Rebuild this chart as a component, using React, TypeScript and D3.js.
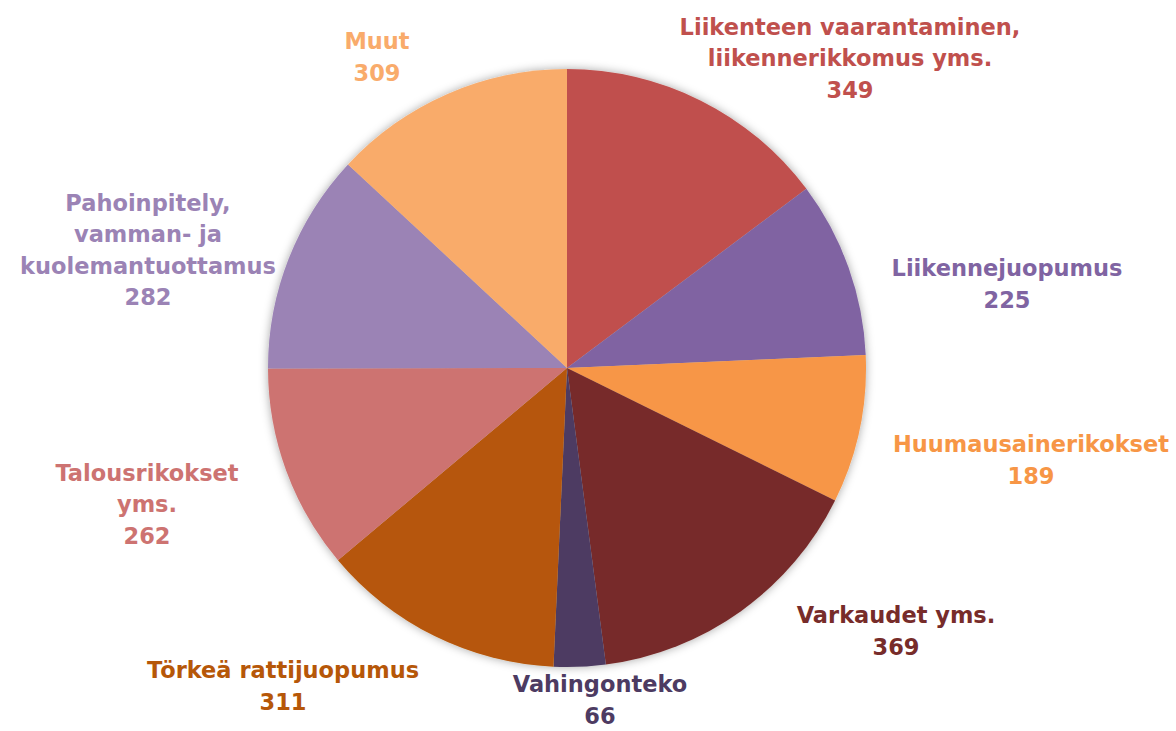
import { useEffect, useRef } from "react"
import * as d3 from "d3"

// data, clockwise from 12 o'clock
const categories = [
  ["Liikenteen vaarantaminen,", "liikennerikkomus yms."],
  ["Liikennejuopumus"],
  ["Huumausainerikokset"],
  ["Varkaudet yms."],
  ["Vahingonteko"],
  ["Törkeä rattijuopumus"],
  ["Talousrikokset", "yms."],
  ["Pahoinpitely,", "vamman- ja", "kuolemantuottamus"],
  ["Muut"],
]
const values = [349, 225, 189, 369, 66, 311, 262, 282, 309]
const sliceColors = ["#C0504D", "#8064A2", "#F79646", "#772C2A", "#4D3B62", "#B65708", "#CD7371", "#9B83B5", "#F9AB6B"]
const labelColors = ["#C0504D", "#8064A2", "#F79646", "#772C2A", "#4D3B62", "#B65708", "#CD7371", "#9B83B5", "#F9AB6B"]

// label block centres (offset from pie centre), picked to sit like the original
const labelOffsets: [number, number][] = [
  [283, -310], [440, -84], [464, 92], [329, 263], [33, 332], [-284, 318], [-420, 136], [-419, -118], [-190, -311],
]

const App = () => {
  const ref = useRef<SVGSVGElement>(null)
  const width = 1176
  const height = 731

  useEffect(() => {
    const svg = d3.select(ref.current)
    svg.selectAll("*").remove()

    const cx = 567
    const cy = 368
    const r = 299

    const defs = svg.append("defs")
    const f = defs.append("filter").attr("id", "shadow")
      .attr("x", "-10%").attr("y", "-10%").attr("width", "120%").attr("height", "120%")
    f.append("feDropShadow")
      .attr("dx", 0).attr("dy", 0).attr("stdDeviation", 5)
      .attr("flood-color", "#000").attr("flood-opacity", 0.35)

    const pie = d3.pie<number>().sort(null).value(d => d)
    const arcs = pie(values)
    const arc = d3.arc<d3.PieArcDatum<number>>().innerRadius(0).outerRadius(r)

    const g = svg.append("g").attr("transform", `translate(${cx},${cy})`)

    g.append("g").attr("filter", "url(#shadow)")
      .selectAll("path")
      .data(arcs)
      .join("path")
      .attr("d", arc)
      .attr("fill", (d, i) => sliceColors[i])

    const lineH = 31.5
    const labels = g.append("g")
      .attr("font-family", "'DejaVu Sans', sans-serif")
      .attr("font-weight", "bold")
      .attr("font-size", 22.5)
      .attr("text-anchor", "middle")

    arcs.forEach((d, i) => {
      const lines = [...categories[i], String(values[i])]
      const [ox, oy] = labelOffsets[i]
      const top = oy - ((lines.length - 1) * lineH) / 2
      const t = labels.append("text").attr("fill", labelColors[i])
      lines.forEach((ln, j) => {
        t.append("tspan")
          .attr("x", ox)
          .attr("y", top + j * lineH)
          .attr("dy", "0.36em")
          .text(ln)
      })
    })
  }, [])

  return (
    <svg ref={ref} width={width} height={height}
      style={{ position: "fixed", left: 0, top: 0, background: "#fff" }} />
  )
}

export default App
